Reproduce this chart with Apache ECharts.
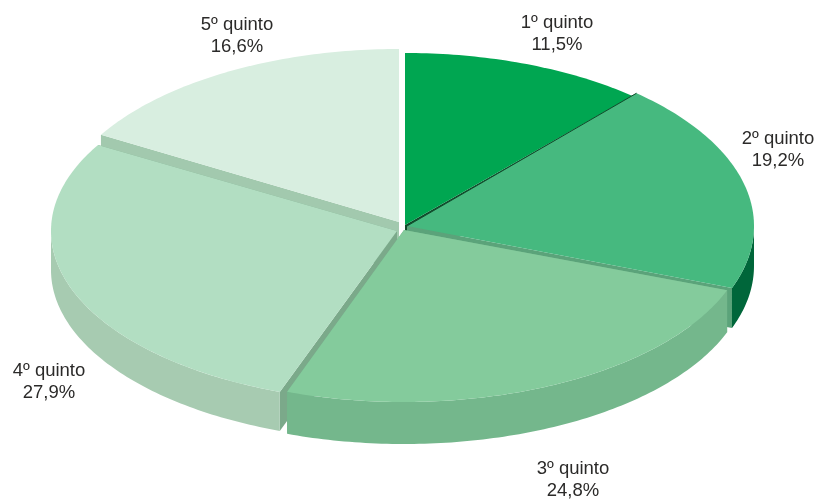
<!DOCTYPE html>
<html>
<head>
<meta charset="utf-8">
<style>
  html, body { margin: 0; padding: 0; background: #fff; }
  #chart { width: 823px; height: 500px; }
</style>
</head>
<body>
<div id="chart"></div>
<script src="https://cdn.jsdelivr.net/npm/echarts@6/dist/echarts.min.js"></script>
<script>
// data
var categories = ["1º quinto", "2º quinto", "3º quinto", "4º quinto", "5º quinto"];
var shares = [11.5, 19.2, 24.8, 27.9, 16.6];

// look
var topColors = ["#00a651", "#46b97f", "#84cb9c", "#b2dec2", "#d8eee0"];
var rimColors = ["#00663a", "#00663a", "#74b78c", "#a7cbb1", "#a2c9ae"];
var edgeColors = ["#0f4a2a", "#5ba37a", "#74b78c", "#7ba98a", "#a2c9ae"];
// every slice is pulled out a little, and the drawing is not a perfect ellipse
var centers = [[405, 225], [407, 226], [404, 230], [397, 231], [399, 222]];
var radiiX = [344, 347, 345, 346, 345];
var radiiY = [172, 177, 172, 171, 173];
var depths = [41, 40, 42, 39, 41];
var labelPos = [[557, 34], [778, 150], [573, 480], [49, 382], [237, 36]];
var drawOrder = [0, 4, 1, 3, 2];

var total = shares.reduce(function (a, b) { return a + b; }, 0);
var starts = [];
var running = 0;
shares.forEach(function (v) {
  starts.push(running / total);
  running += v;
});

function pt(i, frac, dy) {
  var t = frac * Math.PI * 2;
  return [
    centers[i][0] + radiiX[i] * Math.sin(t),
    centers[i][1] - radiiY[i] * Math.cos(t) + (dy || 0)
  ];
}

function arc(i, a, b, dy) {
  var pts = [];
  var n = Math.max(2, Math.ceil((b - a) * 400));
  for (var k = 0; k <= n; k++) {
    pts.push(pt(i, a + ((b - a) * k) / n, dy));
  }
  return pts;
}

function poly(points, color) {
  return { type: "polygon", shape: { points: points }, style: { fill: color } };
}

function edgeWall(i, frac) {
  var c = centers[i];
  var p = pt(i, frac);
  return poly(
    [c, p, [p[0], p[1] + depths[i]], [c[0], c[1] + depths[i]]],
    edgeColors[i]
  );
}

function renderSlice(params, api) {
  var i = api.value(0);
  var a = starts[i];
  var b = a + shares[i] / total;
  var kids = [];
  kids.push(edgeWall(i, a));
  kids.push(edgeWall(i, b));
  // only the front half of the rim can be seen
  var ra = Math.max(a, 0.25);
  var rb = Math.min(b, 0.75);
  if (rb > ra) {
    var top = arc(i, ra, rb, 0);
    var bottom = arc(i, ra, rb, depths[i]).reverse();
    kids.push(poly(top.concat(bottom), rimColors[i]));
  }
  kids.push(poly([centers[i]].concat(arc(i, a, b, 0)), topColors[i]));
  // dark seam between the first two slices
  if (i === 1) {
    var s = pt(i, a);
    kids.push({
      type: "line",
      shape: { x1: centers[i][0], y1: centers[i][1], x2: s[0], y2: s[1] },
      style: { stroke: edgeColors[0], lineWidth: 1 }
    });
  }
  return { type: "group", children: kids };
}

var myChart = echarts.init(document.getElementById("chart"));

var labels = categories.map(function (name, i) {
  return {
    type: "text",
    x: labelPos[i][0],
    y: labelPos[i][1],
    z: 10,
    style: {
      text: name + "\n" + shares[i].toFixed(1).replace(".", ",") + "%",
      font: '18.5px "Liberation Sans", sans-serif',
      lineHeight: 22,
      fill: "#2b2a29",
      align: "center",
      verticalAlign: "middle"
    }
  };
});

var option = {
  animation: false,
  backgroundColor: "#fff",
  graphic: { elements: labels },
  series: [
    {
      type: "custom",
      coordinateSystem: "none",
      silent: true,
      renderItem: renderSlice,
      encode: { value: 0 },
      data: drawOrder.map(function (i) { return [i]; })
    }
  ]
};

myChart.setOption(option);
</script>
</body>
</html>
